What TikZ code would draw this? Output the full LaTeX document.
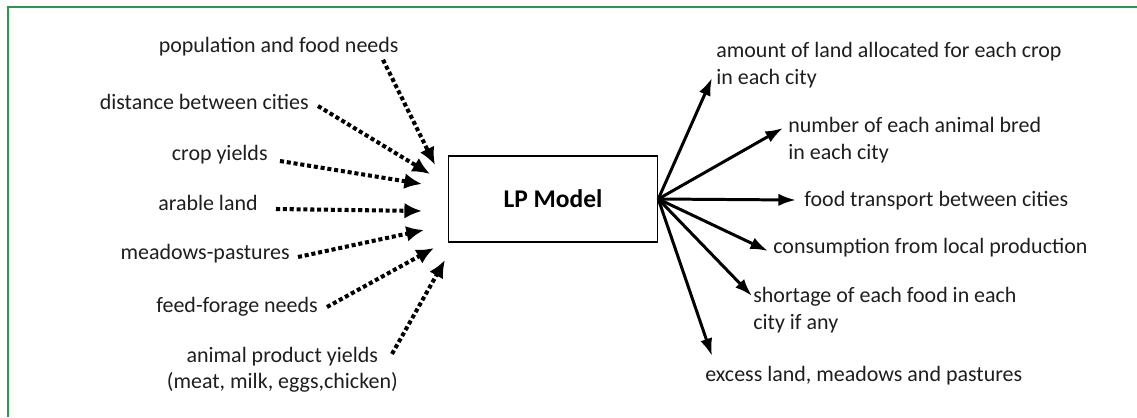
\documentclass[tikz,border=0pt]{standalone}
\usepackage{fontspec}
\setmainfont{Carlito}
\usetikzlibrary{positioning,arrows.meta}
\definecolor{framegreen}{RGB}{35,155,75}
\definecolor{labgray}{RGB}{30,30,30}
\tikzstyle{model} = [draw, line width=0.9pt, rectangle, minimum height=1.72cm, minimum width=4.18cm, font=\fontsize{14.5}{17}\selectfont\bfseries]
\tikzstyle{inlab} = [inner sep=0pt, anchor=east, align=center, text=labgray, font=\fontsize{12.5}{15}\selectfont]
\tikzstyle{outlab} = [inner sep=0pt, anchor=west, align=left, text=labgray, font=\fontsize{12.5}{15}\selectfont]
\tikzstyle{inarrow} = [line width=2.3pt, dash pattern=on 2.3pt off 1.6pt, -{Latex[length=10pt,width=9pt]}]
\tikzstyle{outarrow} = [line width=1.7pt, -{Latex[length=10pt,width=7pt]}]

\begin{document}
\begin{tikzpicture}[x=0.02cm, y=-0.02cm]
		\useasboundingbox (0,0) rectangle (1137,417);
		\draw [framegreen, line width=1.1pt] (1137,7) -- (8,7) -- (8,417);

		\node (lp) [model] at (553,199) {LP Model};

		% inputs
		\node (pop) [inlab] at (399,47) {population and food needs};
		\node (dist) [inlab] at (309,102) {distance between cities};
		\node (crop) [inlab] at (268,155) {crop yields};
		\node (arable) [inlab] at (258,203) {arable land};
		\node (meadow) [inlab] at (290,254) {meadows-pastures};
		\node (feed) [inlab] at (318,307) {feed-forage needs};
		\node (anim) [inlab] at (398,370) {animal product yields\\(meat, milk, eggs,chicken)};

		\coordinate (ipop) at (435,165);
		\coordinate (idist) at (430,174);
		\coordinate (icrop) at (422,184);
		\coordinate (iarable) at (422,211);
		\coordinate (imeadow) at (424,230);
		\coordinate (ifeed) at (434,248);
		\coordinate (ianim) at (445,260);

		% outputs
		\node (land) [outlab] at (716,65) {amount of land allocated for each crop\\in each city};
		\node (bred) [outlab] at (788,140) {number of each animal bred\\in each city};
		\node (trans) [outlab] at (804,201) {food transport between cities};
		\node (cons) [outlab] at (773,248) {consumption from local production};
		\node (short) [outlab] at (753,310) {shortage of each food in each\\city if any};
		\node (excess) [outlab] at (705,376) {excess land, meadows and pastures};

		\coordinate (oland) at (712,78);
		\coordinate (obred) at (783,128);
		\coordinate (otrans) at (796,200);
		\coordinate (ocons) at (768,251);
		\coordinate (oshort) at (752,296);
		\coordinate (oexcess) at (712,356);

		\draw [inarrow] ([xshift=-0.32cm,yshift=-0.06cm]pop.south east) -- (ipop);
		\draw [inarrow] ([xshift=0.18cm,yshift=-0.08cm]dist.east) -- (idist);
		\draw [inarrow] ([xshift=0.24cm,yshift=-0.12cm]crop.east) -- (icrop);
		\draw [inarrow] ([xshift=0.36cm,yshift=-0.12cm]arable.east) -- (iarable);
		\draw [inarrow] ([xshift=0.16cm,yshift=-0.06cm]meadow.east) -- (imeadow);
		\draw [inarrow] ([xshift=0.18cm]feed.east) -- (ifeed);
		\draw [inarrow] ([xshift=-0.12cm,yshift=-0.14cm]anim.north east) -- (ianim);

		\draw [outarrow] (lp.east) -- (oland);
		\draw [outarrow] (lp.east) -- (obred);
		\draw [outarrow] (lp.east) -- (otrans);
		\draw [outarrow] (lp.east) -- (ocons);
		\draw [outarrow] (lp.east) -- (oshort);
		\draw [outarrow] (lp.east) -- (oexcess);
	\end{tikzpicture}
\end{document}
